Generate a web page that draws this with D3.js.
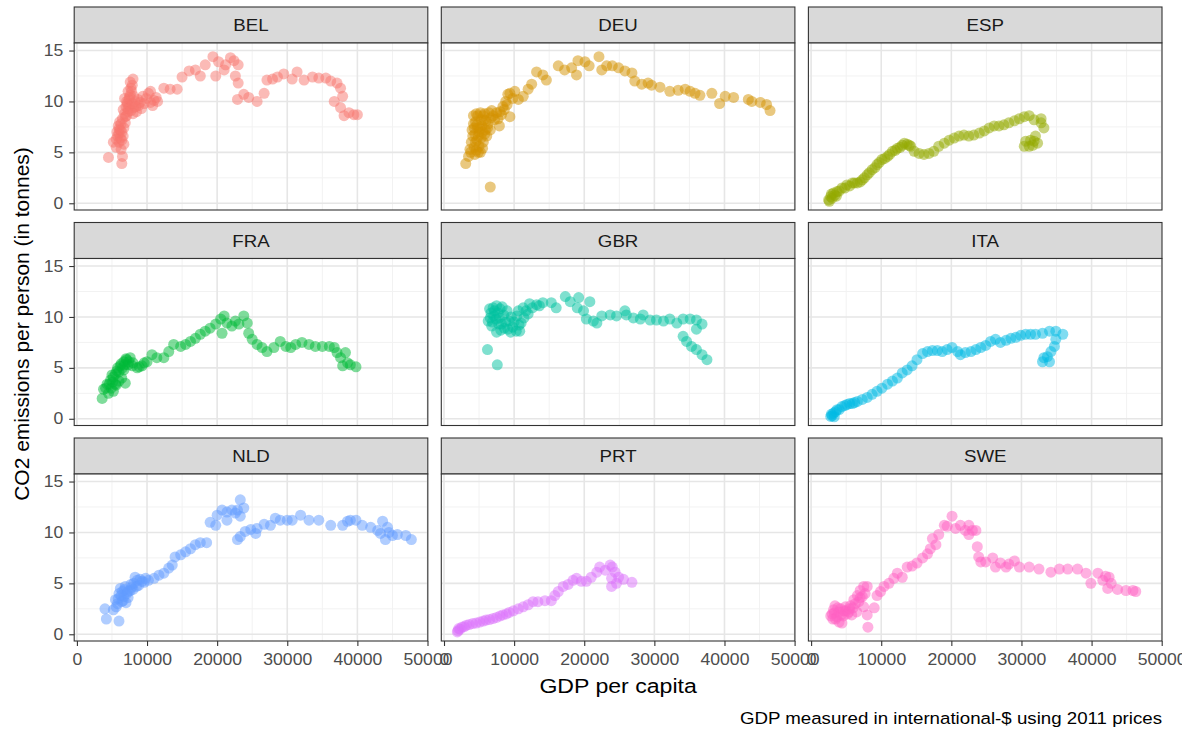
<!DOCTYPE html>
<html>
<head>
<meta charset="utf-8">
<script src="https://cdn.jsdelivr.net/npm/d3@7"></script>
<style>
  body { margin: 0; background: #fff; }
  svg text { font-family: "Liberation Sans", Arial, Helvetica, sans-serif; }
</style>
</head>
<body>
<svg id="chart" width="1182" height="731"></svg>
<script>
// Facet order and colours (ggplot default hue palette for 9 groups)
const countries = ["BEL", "DEU", "ESP", "FRA", "GBR", "ITA", "NLD", "PRT", "SWE"];
const colors = ["#F8766D", "#D39200", "#93AA00", "#00BA38", "#00C19F", "#00B9E3", "#619CFF", "#DB72FB", "#FF61C3"];

const xTicks = [0, 10000, 20000, 30000, 40000, 50000];
const yTicks = [0, 5, 10, 15];

// [GDP per capita, CO2 tonnes per person]
const BEL = [[4500,4.5],[5200,6.0],[6400,3.9],[6500,4.6],[6300,5.3],[6700,5.8],[6600,6.6],[5700,7.0],[5800,6.6],[6000,6.9],[6200,6.4],[6400,7.0],[5900,7.6],[6000,7.3],[6100,8.0],[6200,7.2],[6300,7.8],[6500,8.3],[6800,8.8],[6900,8.5],[6600,9.2],[7000,9.5],[7200,9.8],[7300,9.0],[7400,10.2],[7500,9.6],[7600,10.6],[7700,11.3],[7800,11.0],[7900,11.6],[8000,12.2],[8100,9.4],[8300,10.0],[8500,9.0],[8700,10.2],[8800,9.6],[9000,9.9],[9200,9.3],[9400,10.5],[9600,9.8],[9900,10.3],[10200,10.8],[10500,9.9],[10500,11.0],[10800,9.6],[11000,10.1],[11300,10.4],[11500,10.0],[6400,6.2],[6700,7.4],[6900,7.9],[7100,8.6],[7300,9.3],[7100,10.0],[7500,10.4],[7700,9.1],[7900,9.8],[8100,10.5],[8400,9.5],[6800,10.3],[7300,11.0],[7600,11.9],[8000,8.8],[6000,6.0],[5600,6.3],[5600,5.5],[12400,11.3],[13300,11.2],[14300,11.2],[15000,12.4],[16000,13.0],[16900,13.1],[17600,12.5],[18300,13.6],[19400,14.4],[19800,12.5],[20200,13.9],[21000,13.1],[21200,13.6],[21900,14.3],[22400,14.0],[23000,13.6],[22600,12.5],[23000,11.8],[22900,10.2],[23800,10.7],[24500,10.4],[25700,10.0],[26700,10.8],[27100,12.1],[27900,12.2],[28600,12.4],[29500,12.7],[30700,12.2],[31400,12.9],[32400,12.1],[33600,12.4],[34500,12.3],[35500,12.3],[36200,12.0],[36700,10.0],[37100,11.8],[37600,11.3],[37900,10.5],[37600,9.4],[38100,8.6],[38800,8.9],[39500,8.7],[40000,8.7]];

const DEU = [[3100,3.9],[3500,4.6],[3700,5.3],[3900,6.0],[4100,6.6],[4000,7.2],[4200,7.8],[4200,8.6],[4600,8.8],[4500,8.0],[4800,7.4],[4400,6.8],[4700,6.2],[5000,5.6],[5200,5.0],[5500,5.4],[5300,6.4],[5000,7.0],[5400,7.6],[5700,8.2],[5900,7.2],[6100,6.6],[6300,7.8],[6700,8.4],[7000,8.6],[7500,8.9],[7900,7.6],[8200,8.7],[8600,9.2],[9000,9.7],[9400,10.8],[6600,1.6],[4300,5.5],[4600,5.2],[5600,6.0],[4800,8.6],[5200,8.9],[5800,8.8],[4300,7.4],[4500,6.0],[4900,6.6],[5100,7.3],[5300,8.2],[5600,8.6],[6000,8.1],[6400,8.9],[6800,9.1],[4700,7.7],[5500,7.0],[5800,6.8],[4900,5.0],[4400,4.8],[3800,5.0],[6200,7.4],[6600,7.2],[7200,8.2],[7700,8.3],[8000,9.0],[8400,9.5],[8800,10.0],[9800,10.3],[10600,10.2],[9400,8.5],[9100,10.7],[10100,11.0],[11300,10.5],[12000,11.2],[12500,11.7],[13200,12.9],[14100,12.6],[14600,12.1],[16300,13.5],[17200,13.1],[18200,13.3],[18900,12.6],[19100,14.0],[20100,13.9],[20700,13.5],[22100,14.4],[22500,13.1],[23200,13.5],[24000,13.5],[24900,13.3],[25800,13.0],[26800,12.8],[27200,12.0],[28200,11.7],[29100,11.8],[29600,11.6],[30800,11.4],[32200,11.0],[33400,11.1],[34400,11.2],[35100,11.0],[35800,10.8],[36500,10.6],[38200,10.8],[39300,9.8],[40100,10.5],[41300,10.4],[43400,10.2],[43900,10.0],[45100,9.9],[46000,9.7],[46500,9.1]];

const ESP = [[2500,0.33],[2600,0.2],[2800,0.66],[3000,0.5],[2900,0.9],[3200,1.0],[3400,0.8],[3600,0.7],[3700,1.15],[4000,1.2],[4400,1.5],[4800,1.5],[5100,1.8],[5500,1.7],[5900,2.0],[6200,2.0],[6600,2.0],[7000,2.1],[7300,2.3],[7600,2.5],[8000,2.8],[8300,3.0],[8700,3.3],[9100,3.5],[9400,3.8],[9700,4.0],[10100,4.3],[10500,4.4],[10900,4.6],[11200,4.8],[11600,5.1],[12000,5.2],[12300,5.4],[12700,5.5],[13000,5.7],[13300,5.9],[13700,5.8],[14000,5.7],[14200,5.6],[14700,5.1],[15400,4.9],[16100,4.8],[16800,4.9],[17500,5.1],[18200,5.6],[19000,5.9],[19700,6.2],[20400,6.4],[21100,6.6],[21800,6.7],[22500,6.6],[23200,6.7],[24000,6.9],[24700,7.1],[25400,7.4],[26100,7.6],[26800,7.6],[27500,7.7],[28200,7.9],[29000,8.1],[29700,8.3],[30400,8.5],[31100,8.6],[31800,8.2],[32800,8.3],[33200,7.4],[32800,7.9],[32000,6.6],[31800,6.1],[31100,5.6],[30400,5.6],[30600,6.1],[31300,6.2],[32300,5.9],[31600,5.7]];

const FRA = [[3600,2.0],[3800,2.9],[4100,3.0],[4300,3.4],[4500,2.5],[4600,3.4],[4800,3.8],[4900,3.0],[5000,4.3],[5100,3.6],[5200,2.7],[5200,4.1],[5500,3.4],[5500,4.4],[5600,3.3],[5700,4.7],[5800,5.0],[6000,3.7],[6000,4.6],[6200,5.2],[6300,5.4],[6400,4.0],[6500,5.0],[6700,5.6],[6700,4.8],[6800,5.3],[6900,3.5],[7000,5.9],[7100,5.8],[7300,5.3],[7400,5.6],[7600,6.0],[7900,5.2],[8000,5.5],[8600,5.0],[8900,5.1],[9300,5.2],[9600,5.5],[10000,5.6],[10700,6.3],[11400,6.0],[12400,6.0],[13100,6.6],[13800,7.3],[14800,7.1],[15500,7.3],[16200,7.6],[16900,7.9],[17600,8.3],[18300,8.6],[19000,8.9],[19800,9.3],[20500,9.8],[21000,10.1],[20700,8.4],[21400,9.4],[22100,9.1],[22600,9.6],[23100,9.3],[23800,10.1],[24300,9.4],[24500,8.4],[25000,7.8],[25700,7.3],[26400,7.0],[27100,6.6],[28100,7.0],[29000,7.6],[29800,7.1],[30500,7.0],[31200,7.3],[32100,7.5],[33100,7.3],[34000,7.1],[35000,7.1],[36000,7.1],[36700,7.0],[37100,6.5],[37600,6.0],[37900,5.2],[38300,6.5],[38600,5.5],[39000,5.3],[39800,5.1]];

const GBR = [[6200,6.8],[7600,5.3],[6300,9.6],[6700,10.4],[7000,10.9],[7500,11.1],[8000,10.8],[7400,9.8],[6800,9.1],[7500,8.5],[8200,9.3],[8500,10.2],[9000,10.6],[9300,9.6],[9800,9.0],[10300,8.6],[10800,8.6],[11000,9.4],[11400,9.9],[12000,10.3],[10400,10.1],[9600,10.0],[8600,8.9],[7900,9.9],[7100,10.1],[8300,11.0],[6500,10.8],[6600,9.9],[6900,9.5],[7200,10.6],[7700,10.4],[7800,9.3],[8100,8.7],[8800,9.5],[9100,8.8],[9500,8.5],[10000,9.5],[10700,9.2],[11700,10.6],[12600,10.9],[13600,11.1],[10600,10.6],[11300,10.9],[12200,11.3],[13200,11.2],[14100,11.4],[15300,11.4],[16000,10.9],[17300,12.0],[18000,11.5],[19200,11.9],[19000,10.9],[19900,10.6],[20800,11.5],[20300,9.8],[21300,9.6],[21800,9.4],[22500,10.1],[23700,10.2],[24600,10.1],[25800,10.6],[26000,10.2],[27000,9.9],[28000,9.8],[28400,10.2],[29400,9.7],[30300,9.7],[31300,9.6],[32200,9.8],[33200,9.4],[34100,9.8],[35100,9.8],[36000,9.7],[36800,9.3],[36000,8.8],[34100,8.1],[34600,7.6],[35300,7.1],[36000,6.8],[36800,6.3],[37500,5.8]];

const ITA = [[2800,0.23],[2900,0.45],[3000,0.3],[3200,0.56],[3300,0.2],[3500,0.7],[3700,0.89],[4000,0.9],[4400,1.2],[4800,1.3],[5100,1.4],[5500,1.5],[5900,1.5],[6200,1.6],[6600,1.7],[7300,1.9],[8000,2.1],[8700,2.4],[9400,2.7],[10100,3.0],[10900,3.4],[11600,3.7],[12300,4.0],[13000,4.5],[13700,4.8],[14400,5.2],[15100,5.8],[15900,6.4],[16600,6.6],[17300,6.7],[18000,6.7],[18700,6.6],[19400,6.8],[20100,7.0],[20900,6.6],[21300,6.3],[22000,6.5],[22800,6.6],[23500,6.8],[24200,7.0],[24900,7.2],[25600,7.6],[26300,7.8],[27000,7.5],[27800,7.7],[28500,7.9],[29200,8.0],[29900,8.2],[30600,8.3],[31300,8.3],[32000,8.3],[33000,8.4],[34000,8.6],[34900,8.6],[35900,8.3],[34900,7.8],[34700,7.1],[34200,6.6],[33200,6.0],[34000,5.6],[33000,5.6],[33700,6.1]];

const NLD = [[4000,2.5],[4200,1.5],[6000,1.3],[5200,2.4],[5500,3.4],[6000,4.0],[6200,4.5],[6700,3.7],[7100,4.0],[6900,4.7],[7600,4.3],[8100,5.0],[8300,5.6],[8800,4.8],[9300,5.2],[9800,5.5],[5800,3.0],[6400,3.2],[7300,3.6],[6500,4.2],[5600,2.7],[7800,4.6],[8600,5.3],[6300,3.8],[6800,4.4],[7300,4.2],[7700,4.9],[8000,4.4],[8500,4.7],[9000,5.4],[9600,5.1],[5900,3.5],[6600,3.3],[7000,3.1],[10200,5.3],[11000,5.5],[11700,5.8],[12400,6.0],[13100,6.5],[13600,6.8],[14000,7.6],[14800,7.8],[15500,8.1],[16200,8.4],[16900,8.8],[17600,9.0],[18500,9.0],[19000,11.0],[19800,10.7],[20000,11.7],[20700,12.2],[21400,11.2],[21400,12.0],[22100,12.2],[22600,11.9],[22900,12.2],[23300,11.6],[23300,13.2],[23800,12.4],[22900,9.3],[23300,9.6],[24000,10.1],[24800,10.3],[25500,9.9],[25700,10.4],[26700,10.8],[27600,10.7],[28300,11.4],[29000,11.2],[30000,11.2],[30700,11.2],[31900,11.7],[33100,11.2],[34500,11.2],[36200,10.7],[37900,10.7],[38600,11.1],[39000,11.2],[39800,11.2],[40700,10.7],[41900,10.5],[42900,10.2],[43600,11.1],[43300,9.9],[44000,9.3],[44300,10.5],[44500,10.0],[45000,9.7],[45700,9.8],[46900,9.7],[47700,9.3]];

const PRT = [[1900,0.23],[2000,0.35],[2100,0.56],[2300,0.5],[2600,0.72],[2900,0.75],[3200,0.89],[3600,0.95],[4100,1.05],[4600,1.1],[5100,1.2],[5600,1.3],[6000,1.4],[6500,1.45],[7000,1.55],[7500,1.65],[8000,1.8],[8400,1.9],[8900,2.0],[9300,2.15],[9900,2.3],[10600,2.5],[11300,2.7],[12000,2.9],[12700,3.2],[13400,3.2],[14400,3.3],[15300,3.3],[15800,3.8],[16300,4.2],[17000,4.7],[17700,4.9],[18400,5.3],[18900,5.5],[19600,5.2],[20300,5.2],[21000,5.6],[21800,6.1],[22200,6.6],[23000,6.3],[23700,6.8],[24000,6.6],[24400,6.1],[24900,5.6],[23900,5.5],[23900,4.7],[24600,5.0],[25600,5.4],[26800,5.1]];

const SWE = [[2800,1.8],[3000,2.0],[3100,1.5],[3200,2.4],[3300,2.1],[3400,2.8],[3500,1.5],[3700,1.7],[3800,2.6],[4000,1.2],[4000,2.2],[4200,2.5],[4300,1.9],[4400,1.1],[4600,1.8],[4700,2.3],[4900,2.7],[5000,2.3],[5200,2.0],[5400,2.2],[5500,2.5],[5600,2.8],[5800,1.9],[6000,2.6],[6100,3.4],[6300,3.0],[6500,2.2],[6600,3.8],[6800,3.2],[7000,3.6],[7000,4.3],[7300,3.7],[7500,4.7],[7500,2.7],[7700,4.0],[8000,4.7],[8000,1.9],[8100,0.7],[9000,2.6],[9400,3.8],[9900,4.2],[10400,4.7],[11100,5.0],[11800,5.5],[12300,6.0],[13000,5.6],[13700,6.6],[14400,6.7],[15100,7.0],[15900,7.5],[16600,7.9],[17000,8.4],[17300,9.4],[17800,8.8],[18200,9.8],[19000,10.7],[19400,10.6],[20100,11.6],[20600,10.4],[21300,10.7],[22000,10.2],[22500,10.7],[23000,10.2],[23500,10.2],[22500,9.8],[23700,8.6],[23900,7.6],[24200,7.1],[24900,7.1],[25900,7.5],[26300,6.6],[27000,7.0],[27800,6.6],[28200,6.9],[29000,7.2],[29700,6.6],[31100,6.6],[32500,6.4],[34200,6.1],[35400,6.4],[36600,6.4],[38000,6.4],[39200,6.0],[39900,5.0],[40900,6.0],[41600,5.3],[42000,5.7],[42500,5.6],[42300,4.5],[42800,5.0],[43700,4.4],[44900,4.3],[45900,4.3],[46300,4.2]];

const seriesByCountry = { BEL, DEU, ESP, FRA, GBR, ITA, NLD, PRT, SWE };

// ---- layout ----
const svg = d3.select("#chart");
const plotLeft = 74.2, plotRight = 1162, plotTop = 7, plotBottom = 641;
const colGap = 13.5, rowGap = 12.5, stripH = 36;
const nCol = 3, nRow = 3;
const cellW = (plotRight - plotLeft - colGap * (nCol - 1)) / nCol;
const cellH = (plotBottom - plotTop - rowGap * (nRow - 1)) / nRow;
const panelH = cellH - stripH;
const wide = "scale(1.1,1)";   // glyphs are drawn slightly wide

const x = d3.scaleLinear().domain([-386, 50043]).range([0, cellW]);
const y = d3.scaleLinear().domain([-0.66, 15.74]).range([panelH, 0]);

const xMinor = [5000, 15000, 25000, 35000, 45000];
const yMinor = [2.5, 7.5, 12.5];

const defs = svg.append("defs");

countries.forEach((code, i) => {
  const col = i % nCol, row = Math.floor(i / nCol);
  const left = plotLeft + col * (cellW + colGap);
  const top = plotTop + row * (cellH + rowGap);
  const g = svg.append("g").attr("transform", `translate(${left},${top})`);

  // strip
  g.append("rect").attr("x", 0).attr("y", 0).attr("width", cellW).attr("height", stripH)
    .attr("fill", "#D9D9D9").attr("stroke", "#333333").attr("stroke-width", 1.1);
  g.append("text").attr("transform", `translate(${cellW / 2},${stripH / 2}) ${wide}`).attr("dy", "0.36em")
    .attr("text-anchor", "middle").attr("font-size", 17).attr("fill", "#1A1A1A").text(code);

  const p = g.append("g").attr("transform", `translate(0,${stripH})`);
  p.append("rect").attr("width", cellW).attr("height", panelH).attr("fill", "#fff");

  // grid
  p.selectAll(".gx-minor").data(xMinor).join("line")
    .attr("x1", d => x(d)).attr("x2", d => x(d)).attr("y1", 0).attr("y2", panelH)
    .attr("stroke", "#F2F2F2").attr("stroke-width", 1);
  p.selectAll(".gy-minor").data(yMinor).join("line")
    .attr("y1", d => y(d)).attr("y2", d => y(d)).attr("x1", 0).attr("x2", cellW)
    .attr("stroke", "#F2F2F2").attr("stroke-width", 1);
  p.selectAll(".gx").data(xTicks).join("line")
    .attr("x1", d => x(d)).attr("x2", d => x(d)).attr("y1", 0).attr("y2", panelH)
    .attr("stroke", "#E6E6E6").attr("stroke-width", 1.6);
  p.selectAll(".gy").data(yTicks).join("line")
    .attr("y1", d => y(d)).attr("y2", d => y(d)).attr("x1", 0).attr("x2", cellW)
    .attr("stroke", "#E6E6E6").attr("stroke-width", 1.6);

  // points
  const clipId = "clip-" + code;
  defs.append("clipPath").attr("id", clipId).append("rect").attr("width", cellW).attr("height", panelH);
  p.append("g").attr("clip-path", `url(#${clipId})`)
    .selectAll("circle").data(seriesByCountry[code]).join("circle")
    .attr("cx", d => x(d[0])).attr("cy", d => y(d[1])).attr("r", 5.5)
    .attr("fill", colors[i]).attr("fill-opacity", 0.5);

  // border
  p.append("rect").attr("width", cellW).attr("height", panelH)
    .attr("fill", "none").attr("stroke", "#333333").attr("stroke-width", 1.1);

  // axes
  if (col === 0) {
    const ay = p.append("g").call(d3.axisLeft(y).tickValues(yTicks).tickSize(5).tickPadding(5).tickFormat(d3.format("d")));
    ay.select(".domain").remove();
    ay.selectAll("line").attr("stroke", "#333333").attr("stroke-width", 1.1);
    ay.selectAll("text").attr("font-size", 16).attr("fill", "#4D4D4D").attr("transform", wide);
  }
  if (row === nRow - 1) {
    const ax = p.append("g").attr("transform", `translate(0,${panelH})`)
      .call(d3.axisBottom(x).tickValues(xTicks).tickSize(5).tickPadding(8).tickFormat(d3.format("d")));
    ax.select(".domain").remove();
    ax.selectAll("line").attr("stroke", "#333333").attr("stroke-width", 1.1);
    ax.selectAll("text").attr("font-size", 16).attr("fill", "#4D4D4D").attr("transform", wide);
  }
});

// titles
svg.append("text").attr("transform", `translate(${(plotLeft + plotRight) / 2},693) ${wide}`)
  .attr("text-anchor", "middle").attr("font-size", 21).attr("fill", "#000").text("GDP per capita");
svg.append("text").attr("transform", `translate(29,${(plotTop + plotBottom) / 2}) rotate(-90)`)
  .attr("text-anchor", "middle").attr("font-size", 21).attr("fill", "#000")
  .text("CO2 emissions per person (in tonnes)");
svg.append("text").attr("transform", `translate(${plotRight},724) ${wide}`)
  .attr("text-anchor", "end").attr("font-size", 17).attr("fill", "#000")
  .text("GDP measured in international-$ using 2011 prices");
</script>
</body>
</html>
